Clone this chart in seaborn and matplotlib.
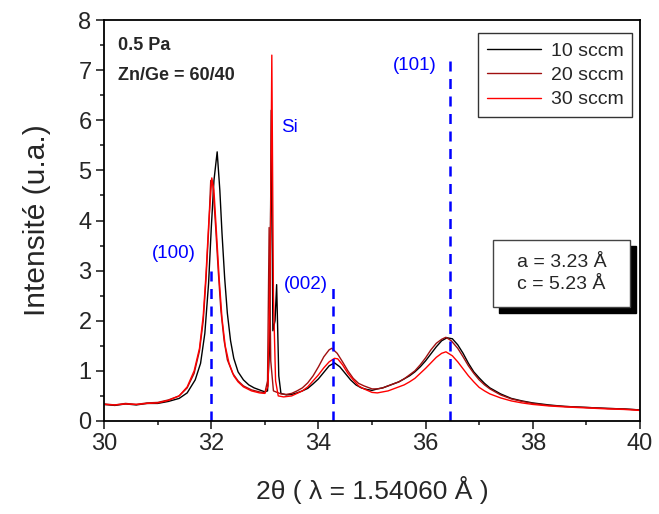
import numpy as np
import pandas as pd
import matplotlib
matplotlib.use("Agg")
import matplotlib.pyplot as plt
from matplotlib.patches import Rectangle
from matplotlib.ticker import MultipleLocator
import seaborn as sns

sns.set_style("ticks")
plt.rcParams["font.family"] = ["Liberation Sans", "DejaVu Sans"]

# --- data ---
tt_10 = [30.0, 30.2, 30.4, 30.6, 30.8, 31.0, 31.2, 31.4, 31.55, 31.7, 31.8, 31.88, 31.95, 32.0,
         32.05, 32.11, 32.16, 32.2, 32.25, 32.3, 32.36, 32.42, 32.5, 32.6, 32.7, 32.8, 32.9, 33.0,
         33.05, 33.09, 33.12, 33.15, 33.19, 33.22, 33.26, 33.3, 33.4, 33.5, 33.6, 33.7, 33.8, 33.9,
         34.0, 34.1, 34.2, 34.3, 34.4, 34.5, 34.6, 34.7, 34.8, 34.9, 35.0, 35.1, 35.2, 35.3, 35.4,
         35.5, 35.6, 35.7, 35.8, 35.9, 36.0, 36.1, 36.2, 36.3, 36.4, 36.5, 36.6, 36.7, 36.8, 36.9,
         37.0, 37.1, 37.2, 37.4, 37.6, 37.8, 38.0, 38.3, 38.6, 39.0, 39.4, 39.7, 40.0]
int_10 = [0.33, 0.31, 0.34, 0.32, 0.35, 0.35, 0.39, 0.45, 0.56, 0.82, 1.15, 1.75, 2.75, 3.85,
          4.8, 5.37, 4.6, 3.75, 2.85, 2.15, 1.6, 1.25, 0.98, 0.82, 0.72, 0.66, 0.62, 0.58,
          0.6, 1.5, 6.2, 1.8, 2.0, 2.72, 0.9, 0.55, 0.52, 0.53, 0.56, 0.6, 0.65, 0.74,
          0.84, 0.97, 1.1, 1.16, 1.08, 0.95, 0.82, 0.72, 0.66, 0.63, 0.61, 0.64, 0.66, 0.7, 0.74,
          0.78, 0.84, 0.9, 0.98, 1.08, 1.2, 1.34, 1.48, 1.6, 1.66, 1.64, 1.52, 1.35, 1.15, 0.98,
          0.86, 0.75, 0.66, 0.54, 0.45, 0.4, 0.36, 0.32, 0.29, 0.27, 0.25, 0.24, 0.22]

tt_20 = [30.0, 30.2, 30.4, 30.6, 30.8, 31.0, 31.2, 31.4, 31.55, 31.68, 31.78, 31.85, 31.9, 31.95,
         31.99, 32.03, 32.08, 32.13, 32.18, 32.24, 32.3, 32.4, 32.5, 32.6, 32.75, 32.9, 33.0,
         33.05, 33.08, 33.11, 33.16, 33.3, 33.4, 33.5, 33.6, 33.7, 33.8, 33.9, 34.0, 34.1, 34.2,
         34.25, 34.35, 34.45, 34.55, 34.65, 34.75, 34.85, 35.0, 35.1, 35.2, 35.3, 35.4, 35.5,
         35.6, 35.7, 35.8, 35.9, 36.0, 36.1, 36.2, 36.3, 36.38, 36.48, 36.6, 36.7, 36.8, 36.9,
         37.0, 37.1, 37.2, 37.4, 37.6, 37.8, 38.0, 38.3, 38.6, 39.0, 39.4, 39.7, 40.0]
int_20 = [0.34, 0.32, 0.35, 0.33, 0.36, 0.37, 0.42, 0.5, 0.66, 0.95, 1.4, 2.0, 2.8, 3.8,
          4.8, 4.7, 3.9, 3.0, 2.2, 1.6, 1.22, 0.95, 0.8, 0.7, 0.62, 0.58, 0.56,
          0.8, 3.86, 1.2, 0.6, 0.54, 0.53, 0.55, 0.6, 0.66, 0.76, 0.9, 1.08, 1.28, 1.42,
          1.45, 1.35, 1.18, 1.0, 0.85, 0.75, 0.7, 0.64, 0.64, 0.66, 0.7, 0.74, 0.78,
          0.84, 0.92, 1.0, 1.12, 1.26, 1.42, 1.55, 1.63, 1.67, 1.6, 1.45, 1.28, 1.1, 0.95,
          0.82, 0.72, 0.64, 0.52, 0.44, 0.39, 0.35, 0.31, 0.29, 0.27, 0.25, 0.24, 0.22]

tt_30 = [30.0, 30.2, 30.4, 30.6, 30.8, 31.0, 31.2, 31.4, 31.55, 31.68, 31.78, 31.85, 31.9, 31.95,
         32.01, 32.05, 32.1, 32.15, 32.2, 32.26, 32.33, 32.42, 32.5, 32.6, 32.75, 32.9, 33.0,
         33.06, 33.1, 33.13, 33.16, 33.2, 33.25, 33.35, 33.5, 33.6, 33.7, 33.8, 33.9, 34.0, 34.1,
         34.2, 34.3, 34.36, 34.45, 34.55, 34.65, 34.75, 34.85, 35.0, 35.1, 35.2, 35.3, 35.4, 35.5,
         35.6, 35.7, 35.8, 35.9, 36.0, 36.1, 36.2, 36.3, 36.38, 36.5, 36.6, 36.7, 36.8, 36.9,
         37.0, 37.1, 37.2, 37.4, 37.6, 37.8, 38.0, 38.3, 38.6, 39.0, 39.4, 39.7, 40.0]
int_30 = [0.33, 0.32, 0.34, 0.33, 0.35, 0.36, 0.41, 0.5, 0.68, 1.0, 1.45, 2.1, 2.9, 3.9,
          4.85, 4.6, 3.7, 2.8, 2.05, 1.5, 1.16, 0.9, 0.78, 0.68, 0.6, 0.56, 0.55,
          0.7, 3.0, 7.3, 2.5, 0.8, 0.5, 0.48, 0.5, 0.55, 0.6, 0.68, 0.8, 0.92, 1.06,
          1.18, 1.25, 1.24, 1.12, 0.95, 0.82, 0.7, 0.64, 0.57, 0.56, 0.58, 0.6, 0.64, 0.68,
          0.72, 0.78, 0.85, 0.95, 1.05, 1.16, 1.27, 1.35, 1.38, 1.3, 1.18, 1.04, 0.9, 0.78,
          0.67, 0.6, 0.54, 0.46, 0.4, 0.36, 0.33, 0.3, 0.28, 0.26, 0.24, 0.23, 0.21]

series_names = ["10 sccm", "20 sccm", "30 sccm"]
series_colors = ["#000000", "#A01010", "#FF0000"]

# reflections (hkl), position and height of dashed marker
hkl_labels = ["(100)", "(002)", "(101)"]
hkl_pos = [32.0, 34.28, 36.45]
hkl_top = [3.1, 2.75, 7.2]

df = pd.concat([
    pd.DataFrame({"tt": tt_10, "I": int_10, "s": series_names[0]}),
    pd.DataFrame({"tt": tt_20, "I": int_20, "s": series_names[1]}),
    pd.DataFrame({"tt": tt_30, "I": int_30, "s": series_names[2]}),
])

fig = plt.figure(figsize=(6.59, 5.14), dpi=100)
ax = fig.add_axes([0.158, 0.181, 0.813, 0.780])

sns.lineplot(data=df, x="tt", y="I", hue="s", palette=series_colors,
             estimator=None, sort=False, linewidth=1.0, ax=ax)

ax.vlines(hkl_pos, 0, hkl_top, colors="#0000FF", linestyles=(0, (4, 3)), linewidth=1.8)

ax.text(31.3, 3.35, hkl_labels[0], color="#0000FF", fontsize=13.5, ha="center", va="center")
ax.text(33.76, 2.72, hkl_labels[1], color="#0000FF", fontsize=13.5, ha="center", va="center")
ax.text(35.8, 7.1, hkl_labels[2], color="#0000FF", fontsize=13.5, ha="center", va="center")
ax.text(33.3, 5.85, "Si", color="#0000FF", fontsize=13.5, ha="left", va="center")

ax.text(30.25, 7.5, "0.5 Pa", fontsize=13, fontweight="bold", va="center")
ax.text(30.25, 6.9, "Zn/Ge = 60/40", fontsize=13, fontweight="bold", va="center")

# lattice parameter box with a drop shadow
x0, y0, w, h = 0.726, 0.284, 0.255, 0.167
ax.add_patch(Rectangle((x0 + 0.011, y0 - 0.014), w, h, transform=ax.transAxes,
                       facecolor="black", edgecolor="black", zorder=5))
ax.add_patch(Rectangle((x0, y0), w, h, transform=ax.transAxes,
                       facecolor="white", edgecolor="#444444", linewidth=1, zorder=6))
ax.text(x0 + w / 2, y0 + h / 2, "a = 3.23 Å\nc = 5.23 Å", transform=ax.transAxes,
        ha="center", va="center", fontsize=14, linespacing=1.35, zorder=7)

ax.set_xlim(30, 40)
ax.set_ylim(0, 8)
ax.xaxis.set_major_locator(MultipleLocator(2))
ax.xaxis.set_minor_locator(MultipleLocator(1))
ax.yaxis.set_major_locator(MultipleLocator(1))
ax.yaxis.set_minor_locator(MultipleLocator(0.5))
ax.tick_params(which="major", direction="out", length=6, width=1.2, labelsize=17,
               top=False, right=False, pad=3)
ax.tick_params(which="minor", direction="out", length=3, width=1.2, top=False, right=False)
for sp in ax.spines.values():
    sp.set_visible(True)
    sp.set_linewidth(1.3)
    sp.set_color("black")

ax.set_xlabel("2θ ( λ = 1.54060 Å )", fontsize=19, labelpad=15)
ax.set_ylabel("Intensité (u.a.)", fontsize=21.5, labelpad=20)

leg = ax.legend(title=None, loc="upper right", bbox_to_anchor=(0.993, 0.977), fontsize=14,
                frameon=True, fancybox=False, edgecolor="black", handlelength=2.8,
                borderpad=0.45, labelspacing=0.35, handletextpad=0.5, borderaxespad=0.2)
leg.get_frame().set_linewidth(1.0)
for line in leg.get_lines():
    line.set_linewidth(1.0)

fig.savefig("out.png", dpi=100)
